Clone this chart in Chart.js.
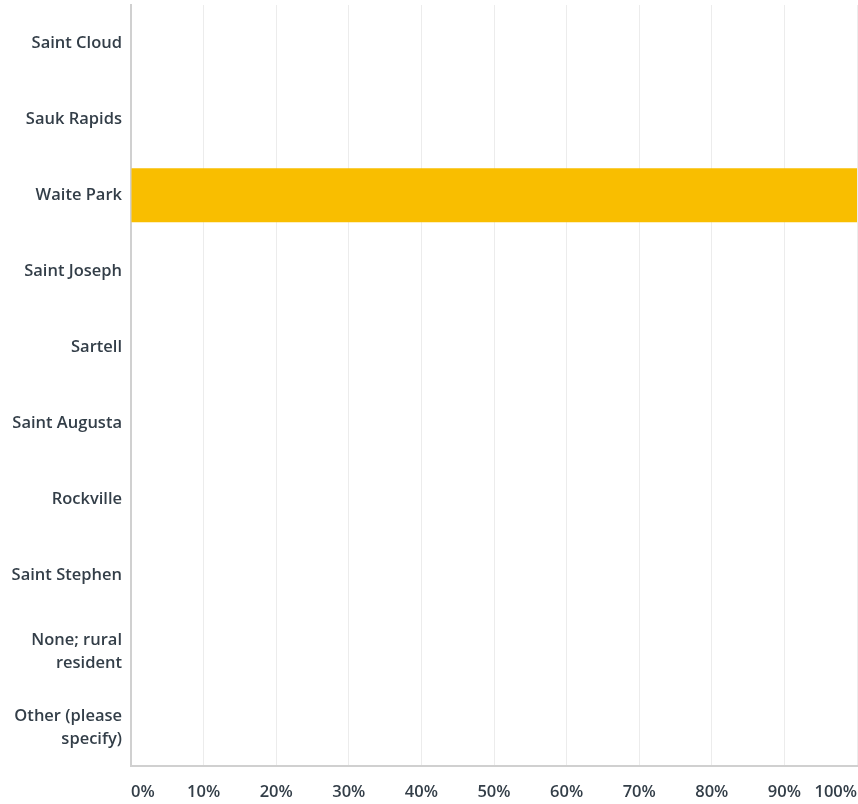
<!DOCTYPE html>
<html>
<head>
<meta charset="utf-8">
<script src="https://cdn.jsdelivr.net/npm/chart.js@4"></script>
<style>
  html, body { margin: 0; padding: 0; background: #fff; }
  #wrap { width: 858px; height: 804px; }
</style>
</head>
<body>
<div id="wrap"><canvas id="chart" width="858" height="804"></canvas></div>
<script>
// answer choices (multi-line ones split into arrays)
const categories = [
    "Saint Cloud", "Sauk Rapids", "Waite Park", "Saint Joseph", "Sartell",
    "Saint Augusta", "Rockville", "Saint Stephen",
    ["None; rural", "resident"], ["Other (please", "specify)"]
];
// percent of responses
const percents = [0, 0, 100, 0, 0, 0, 0, 0, 0, 0];
const tickValues = [0, 10, 20, 30, 40, 50, 60, 70, 80, 90, 100];

const textColor = "#333e48";
const fontFamily = "'Open Sans', 'Noto Sans', sans-serif";

new Chart(document.getElementById("chart").getContext("2d"), {
    type: "bar",
    data: {
        labels: categories,
        datasets: [{
            data: percents,
            backgroundColor: "#f9be00",
            barPercentage: 0.71,
            categoryPercentage: 1
        }]
    },
    options: {
        indexAxis: "y",
        responsive: false,
        animation: false,
        layout: { padding: { top: 5, right: 1, left: 0, bottom: 0 } },
        plugins: { legend: { display: false }, tooltip: { enabled: false } },
        scales: {
            x: {
                min: 0, max: 100,
                afterBuildTicks: s => { s.ticks = tickValues.map(v => ({ value: v })); },
                afterFit: s => { s.height = 38; s.paddingLeft = 0; s.paddingRight = 0; },
                grid: { color: "#ececec", lineWidth: 1, drawTicks: false },
                border: { color: "#d0d0d0", width: 2 },
                ticks: {
                    align: "inner",
                    padding: 16,
                    color: textColor,
                    font: { family: fontFamily, size: 16.5, weight: "600" },
                    callback: v => v + "%"
                }
            },
            y: {
                afterFit: s => { s.width = 131; s.paddingTop = 0; s.paddingBottom = 0; },
                grid: { display: false, drawTicks: false },
                border: { color: "#d0d0d0", width: 2 },
                ticks: {
                    padding: 9,
                    color: textColor,
                    font: { family: fontFamily, size: 16.5, weight: "600", lineHeight: 1.4 }
                }
            }
        }
    }
});
</script>
</body>
</html>
